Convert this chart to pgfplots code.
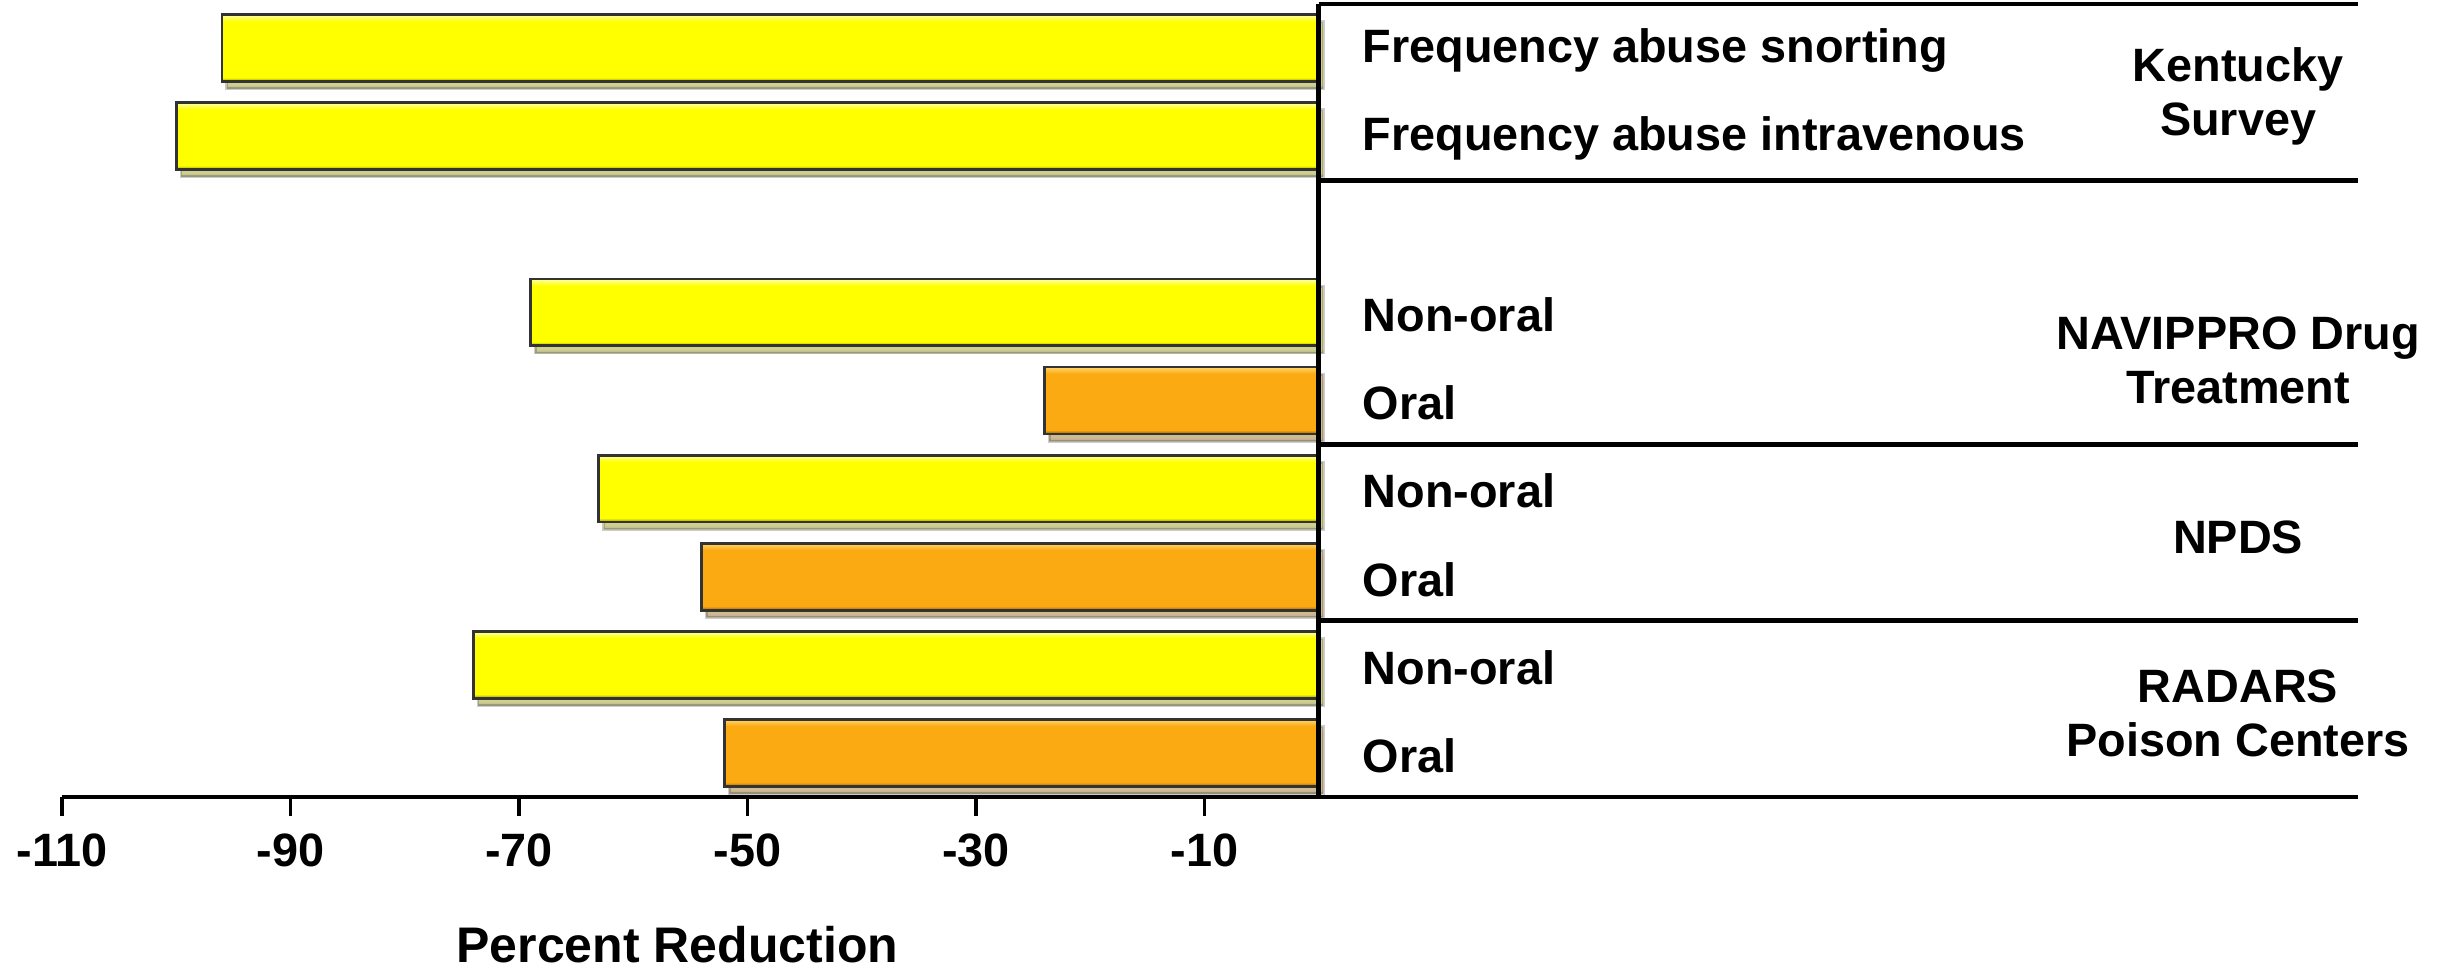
\documentclass[border=0pt]{standalone}
\usepackage{pgfplots}
\pgfplotsset{compat=1.18}
\usepackage{fontspec}
\setmainfont{Liberation Sans}
\usetikzlibrary{shadows}
\definecolor{ymain}{RGB}{255,255,0}
\definecolor{ylt}{RGB}{255,255,140}
\definecolor{ydk}{RGB}{140,140,0}
\definecolor{omain}{RGB}{252,170,18}
\definecolor{olt}{RGB}{255,205,90}
\definecolor{odk}{RGB}{150,95,0}
\pgfdeclareverticalshading{yellowbar}{100bp}{color(0bp)=(ydk); color(25bp)=(ydk); color(28bp)=(ymain); color(70bp)=(ymain); color(74bp)=(ylt); color(100bp)=(ylt)}
\pgfdeclareverticalshading{orangebar}{100bp}{color(0bp)=(odk); color(25bp)=(odk); color(28bp)=(omain); color(70bp)=(omain); color(74bp)=(olt); color(100bp)=(olt)}
\newcommand{\lbl}{\fontsize{11.7}{13.5}\selectfont\bfseries}
\pgfplotsset{
  barbase/.style={xbar, bar width=0.76, bar shift=0pt, draw=black!80, line width=0.7pt,
    drop shadow={shadow xshift=1.2pt, shadow yshift=-1.8pt, opacity=0.25, fill=black}},
  ybarst/.style={barbase, shade, shading=yellowbar},
  obarst/.style={barbase, shade, shading=orangebar},
}
\begin{document}
\begin{tikzpicture}
\useasboundingbox (-15.5pt,-44.25pt) rectangle (594.5pt,199.25pt);
\begin{axis}[
  scale only axis, width=574pt, height=198.25pt,
  xmin=-110, xmax=91, ymin=-0.5, ymax=8.5,
  enlargelimits=false, clip=false,
  axis x line*=bottom, axis y line=none,
  axis line style={line width=1.2pt, black},
  xtick={-110,-90,-70,-50,-30,-10},
  xticklabels={-110,-90,-70,-50,-30,-10},
  ytick=\empty,
  tick align=outside, major tick length=4.75pt,
  xtick style={line width=0.9pt, black},
  xticklabel style={font=\lbl, yshift=-0.8pt},
]
% Kentucky Survey
\addplot[ybarst] coordinates {(-96,8)};
\addplot[ybarst] coordinates {(-100,7)};
% NAVIPPRO
\addplot[ybarst] coordinates {(-69,5)};
\addplot[obarst] coordinates {(-24,4)};
% NPDS
\addplot[ybarst] coordinates {(-63,3)};
\addplot[obarst] coordinates {(-54,2)};
% RADARS
\addplot[ybarst] coordinates {(-74,1)};
\addplot[obarst] coordinates {(-52,0)};
\draw[line width=1.2pt] (axis cs:0,-0.5) -- (axis cs:0,8.5);
\draw[line width=1.2pt] (axis cs:0,8.5) -- (axis cs:91,8.5);
\draw[line width=1.2pt] (axis cs:0,6.5) -- (axis cs:91,6.5);
\draw[line width=1.2pt] (axis cs:0,3.5) -- (axis cs:91,3.5);
\draw[line width=1.2pt] (axis cs:0,1.5) -- (axis cs:91,1.5);
\begin{scope}[every node/.style={font=\lbl, anchor=west, inner sep=0pt}]
\node at (axis cs:3.8,7.97) {Frequency abuse snorting};
\node at (axis cs:3.8,6.97) {Frequency abuse intravenous};
\node at (axis cs:3.8,4.97) {Non-oral};
\node at (axis cs:3.8,3.97) {Oral};
\node at (axis cs:3.8,2.97) {Non-oral};
\node at (axis cs:3.8,1.97) {Oral};
\node at (axis cs:3.8,0.97) {Non-oral};
\node at (axis cs:3.8,-0.03) {Oral};
\end{scope}
\begin{scope}[every node/.style={font=\lbl, align=center, anchor=center, inner sep=0pt}]
\node at (axis cs:80.5,7.45) {Kentucky\\Survey};
\node at (axis cs:80.5,4.45) {NAVIPPRO Drug\\Treatment};
\node at (axis cs:80.5,2.45) {NPDS};
\node at (axis cs:80.5,0.45) {RADARS\\Poison Centers};
\end{scope}
\node[font=\fontsize{12.5}{14}\selectfont\bfseries, anchor=center] at (axis description cs:0.268,0) [yshift=-37pt] {Percent Reduction};
\end{axis}
\end{tikzpicture}
\end{document}
